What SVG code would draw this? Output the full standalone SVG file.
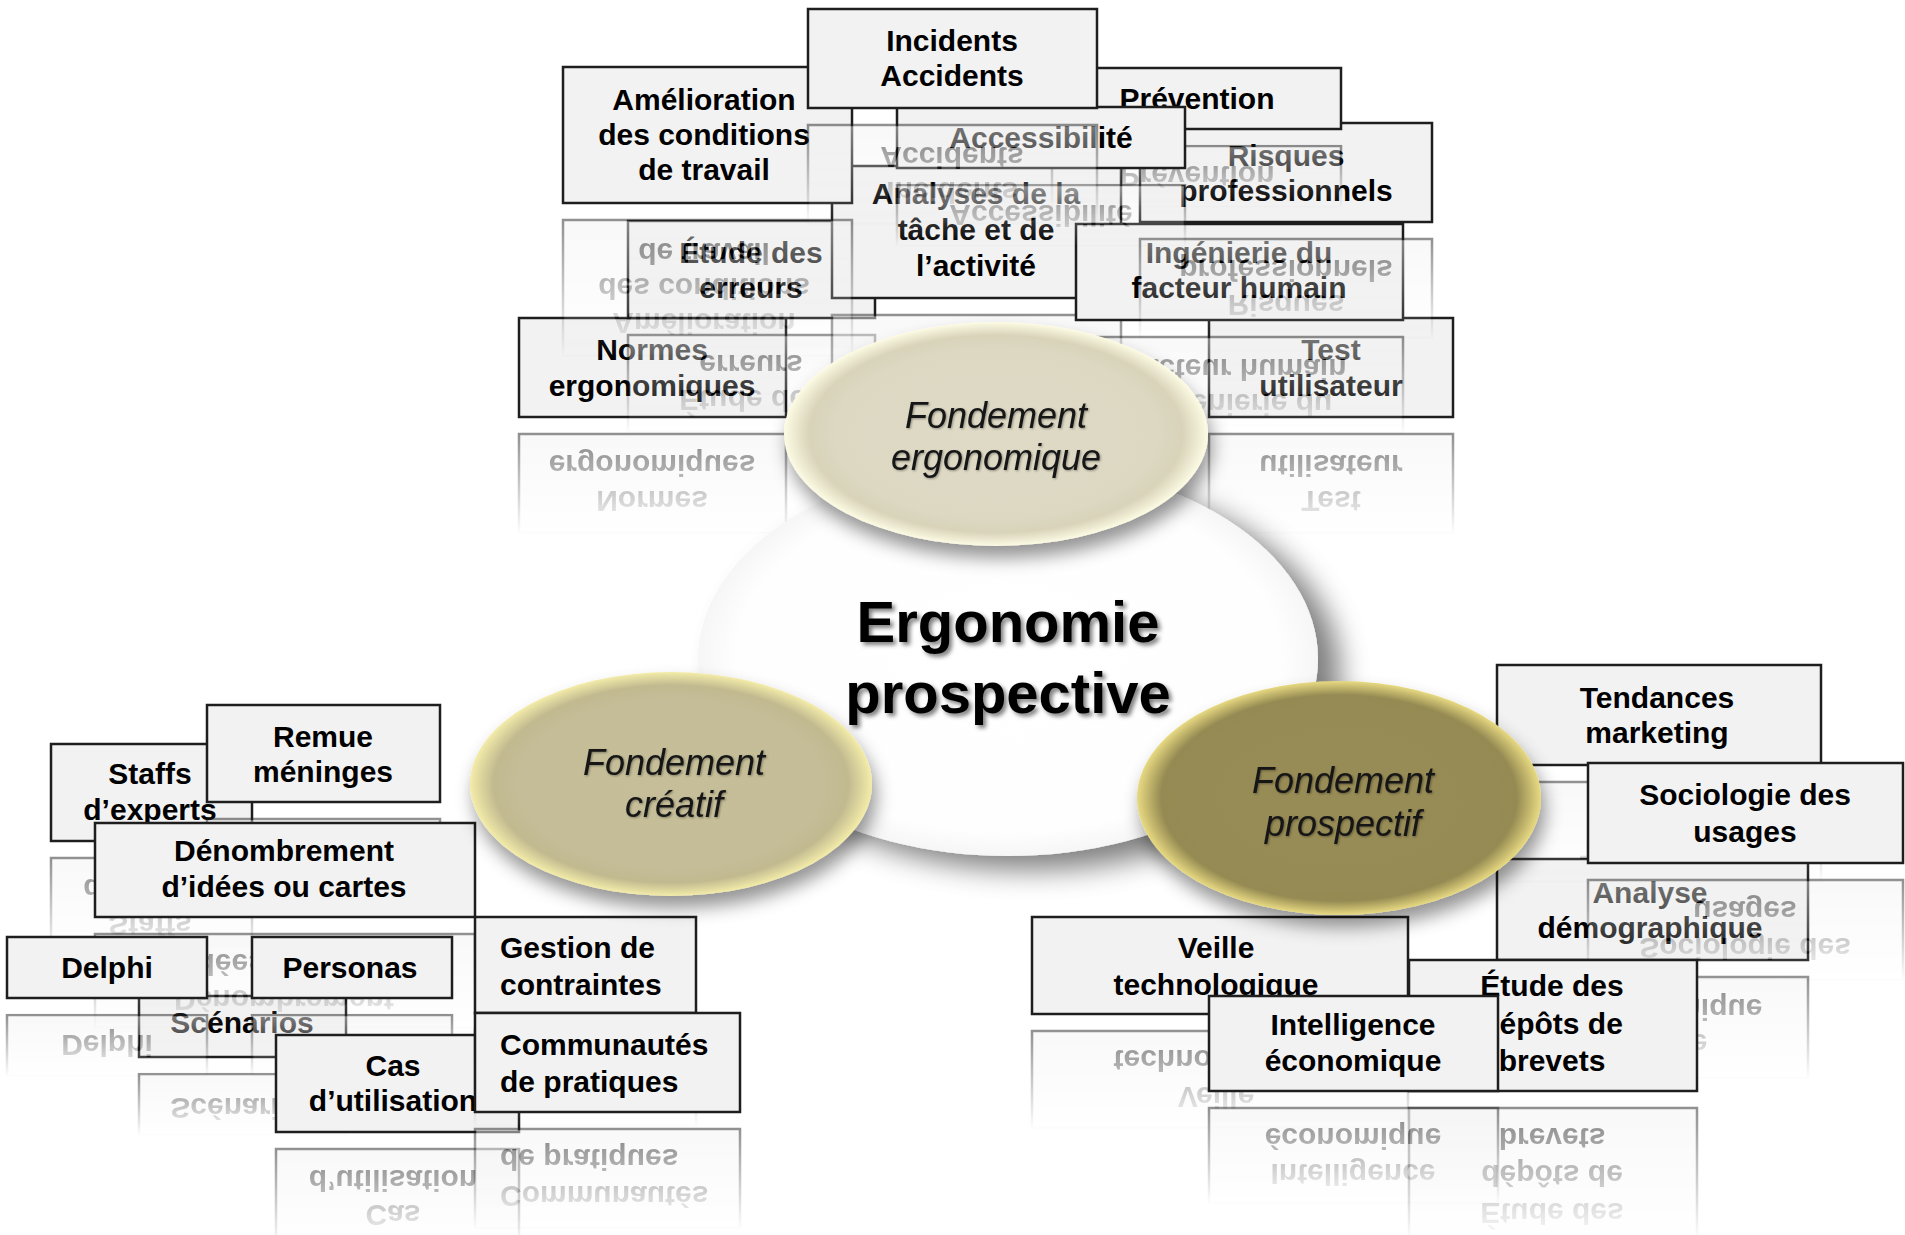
<svg xmlns="http://www.w3.org/2000/svg" xmlns:xlink="http://www.w3.org/1999/xlink" width="1905" height="1235" viewBox="0 0 1905 1235">
<style>
.bx{fill:#f2f2f2;stroke:#1e1e1e;stroke-width:2.5}
.bt{font-family:"Liberation Sans",Arial,sans-serif;font-weight:700;font-size:30px;fill:#000;text-anchor:middle}
.bl{text-anchor:start}
.ft{font-family:"Liberation Sans",Arial,sans-serif;font-style:italic;font-size:36px;fill:#151515;text-anchor:middle}
.ct{font-family:"Liberation Sans",Arial,sans-serif;font-weight:700;font-size:58px;fill:#000;text-anchor:middle}
</style>
<defs>
<linearGradient id="fadeG" x1="0" y1="0" x2="0" y2="1">
<stop offset="0" stop-color="#fff" stop-opacity="0.5"/>
<stop offset="1" stop-color="#fff" stop-opacity="0"/>
</linearGradient>
<mask id="fade" maskContentUnits="objectBoundingBox">
<rect x="-0.05" y="-0.02" width="1.1" height="1.04" fill="url(#fadeG)"/>
</mask>
<radialGradient id="gErgo" cx="0.5" cy="0.5" r="0.5">
<stop offset="0" stop-color="#dedac6"/>
<stop offset="0.76" stop-color="#dcd8c2"/>
<stop offset="0.88" stop-color="#d8d3b9"/>
<stop offset="1" stop-color="#fdfbe4"/>
</radialGradient>
<radialGradient id="gCrea" cx="0.5" cy="0.5" r="0.5">
<stop offset="0" stop-color="#c5be99"/>
<stop offset="0.76" stop-color="#c4bd97"/>
<stop offset="0.88" stop-color="#c1b98f"/>
<stop offset="1" stop-color="#f3eca9"/>
</radialGradient>
<radialGradient id="gPros" cx="0.5" cy="0.5" r="0.5">
<stop offset="0" stop-color="#988c57"/>
<stop offset="0.76" stop-color="#978b55"/>
<stop offset="0.88" stop-color="#958a52"/>
<stop offset="1" stop-color="#e8da82"/>
</radialGradient>
<radialGradient id="gCenter" cx="0.5" cy="0.5" r="0.5">
<stop offset="0" stop-color="#ffffff"/>
<stop offset="0.88" stop-color="#fefefe"/>
<stop offset="1" stop-color="#f6f6f6"/>
</radialGradient>
<filter id="shE" x="-30%" y="-30%" width="160%" height="170%">
<feGaussianBlur in="SourceAlpha" stdDeviation="9"/>
<feOffset dx="4" dy="12" result="o"/>
<feFlood flood-color="#000" flood-opacity="0.42"/>
<feComposite in2="o" operator="in"/>
<feMerge><feMergeNode/><feMergeNode in="SourceGraphic"/></feMerge>
</filter>
<filter id="shC" x="-30%" y="-30%" width="160%" height="170%">
<feGaussianBlur in="SourceAlpha" stdDeviation="14"/>
<feOffset dx="22" dy="14" result="o"/>
<feFlood flood-color="#000" flood-opacity="0.5"/>
<feComposite in2="o" operator="in"/>
<feMerge><feMergeNode/><feMergeNode in="SourceGraphic"/></feMerge>
</filter>
<filter id="shT" x="-10%" y="-20%" width="120%" height="150%">
<feDropShadow dx="3" dy="3" stdDeviation="2.2" flood-color="#000" flood-opacity="0.5"/>
</filter>
<filter id="shF" x="-10%" y="-20%" width="120%" height="150%">
<feDropShadow dx="1" dy="1" stdDeviation="0.8" flood-color="#000" flood-opacity="0.35"/>
</filter>
</defs>

<rect x="0" y="0" width="1905" height="1235" fill="#ffffff"/>

<g id="top-cluster">
<g id="n-normes"><rect class="bx" x="519" y="318" width="267" height="99"/><text class="bt"><tspan x="652" y="360">Normes</tspan><tspan x="652" y="396">ergonomiques</tspan></text></g>
<g mask="url(#fade)"><use href="#n-normes" transform="matrix(1 0 0 -1 0 851)"/></g>
<g id="n-test"><rect class="bx" x="1209" y="318" width="244" height="99"/><text class="bt"><tspan x="1331" y="360">Test</tspan><tspan x="1331" y="396">utilisateur</tspan></text></g>
<g mask="url(#fade)"><use href="#n-test" transform="matrix(1 0 0 -1 0 851)"/></g>
<g id="n-etude-erreurs"><rect class="bx" x="628" y="221" width="247" height="97"/><text class="bt"><tspan x="751" y="263">Étude des</tspan><tspan x="751" y="298">erreurs</tspan></text></g>
<g mask="url(#fade)"><use href="#n-etude-erreurs" transform="matrix(1 0 0 -1 0 653)"/></g>
<g id="n-analyses"><rect class="bx" x="832" y="166" width="289" height="132"/><text class="bt"><tspan x="976" y="204">Analyses de la</tspan><tspan x="976" y="240">tâche et de</tspan><tspan x="976" y="276">l’activité</tspan></text></g>
<g mask="url(#fade)"><use href="#n-analyses" transform="matrix(1 0 0 -1 0 613)"/></g>
<g id="n-ingenierie"><rect class="bx" x="1076" y="224" width="327" height="96"/><text class="bt"><tspan x="1239" y="263">Ingénierie du</tspan><tspan x="1239" y="298">facteur humain</tspan></text></g>
<g mask="url(#fade)"><use href="#n-ingenierie" transform="matrix(1 0 0 -1 0 657)"/></g>
<g id="n-risques"><rect class="bx" x="1140" y="123" width="292" height="99"/><text class="bt"><tspan x="1286" y="166">Risques</tspan><tspan x="1286" y="201">professionnels</tspan></text></g>
<g mask="url(#fade)"><use href="#n-risques" transform="matrix(1 0 0 -1 0 461)"/></g>
<g id="n-prevention"><rect class="bx" x="1052" y="68" width="289" height="61"/><text class="bt"><tspan x="1197" y="109">Prévention</tspan></text></g>
<g mask="url(#fade)"><use href="#n-prevention" transform="matrix(1 0 0 -1 0 275)"/></g>
<g id="n-accessibilite"><rect class="bx" x="897" y="107" width="288" height="61"/><text class="bt"><tspan x="1041" y="148">Accessibilité</tspan></text></g>
<g mask="url(#fade)"><use href="#n-accessibilite" transform="matrix(1 0 0 -1 0 353)"/></g>
<g id="n-amelioration"><rect class="bx" x="563" y="67" width="289" height="136"/><text class="bt"><tspan x="704" y="110">Amélioration</tspan><tspan x="704" y="145">des conditions</tspan><tspan x="704" y="180">de travail</tspan></text></g>
<g mask="url(#fade)"><use href="#n-amelioration" transform="matrix(1 0 0 -1 0 423)"/></g>
<g id="n-incidents"><rect class="bx" x="808" y="9" width="289" height="99"/><text class="bt"><tspan x="952" y="51">Incidents</tspan><tspan x="952" y="86">Accidents</tspan></text></g>
<g mask="url(#fade)"><use href="#n-incidents" transform="matrix(1 0 0 -1 0 233)"/></g>
</g>

<g id="left-cluster">
<g id="n-staffs"><rect class="bx" x="51" y="744" width="201" height="97"/><text class="bt"><tspan x="150" y="784">Staffs</tspan><tspan x="150" y="820">d’experts</tspan></text></g>
<g mask="url(#fade)"><use href="#n-staffs" transform="matrix(1 0 0 -1 0 1699)"/></g>
<g id="n-remue"><rect class="bx" x="207" y="705" width="233" height="97"/><text class="bt"><tspan x="323" y="747">Remue</tspan><tspan x="323" y="782">méninges</tspan></text></g>
<g mask="url(#fade)"><use href="#n-remue" transform="matrix(1 0 0 -1 0 1621)"/></g>
<g id="n-scenarios"><rect class="bx" x="139" y="996" width="207" height="61"/><text class="bt"><tspan x="242" y="1033">Scénarios</tspan></text></g>
<g mask="url(#fade)"><use href="#n-scenarios" transform="matrix(1 0 0 -1 0 2131)"/></g>
<g id="n-denombrement"><rect class="bx" x="95" y="823" width="380" height="94"/><text class="bt"><tspan x="284" y="861">Dénombrement</tspan><tspan x="284" y="897">d’idées ou cartes</tspan></text></g>
<g mask="url(#fade)"><use href="#n-denombrement" transform="matrix(1 0 0 -1 0 1851)"/></g>
<g id="n-delphi"><rect class="bx" x="7" y="937" width="200" height="61"/><text class="bt"><tspan x="107" y="978">Delphi</tspan></text></g>
<g mask="url(#fade)"><use href="#n-delphi" transform="matrix(1 0 0 -1 0 2013)"/></g>
<g id="n-personas"><rect class="bx" x="252" y="937" width="200" height="61"/><text class="bt"><tspan x="350" y="978">Personas</tspan></text></g>
<g mask="url(#fade)"><use href="#n-personas" transform="matrix(1 0 0 -1 0 2013)"/></g>
<g id="n-cas"><rect class="bx" x="276" y="1035" width="243" height="97"/><text class="bt"><tspan x="393" y="1076">Cas</tspan><tspan x="393" y="1111">d’utilisation</tspan></text></g>
<g mask="url(#fade)"><use href="#n-cas" transform="matrix(1 0 0 -1 0 2281)"/></g>
<g id="n-gestion"><rect class="bx" x="475" y="917" width="221" height="96"/><text class="bt bl"><tspan x="500" y="958">Gestion de</tspan><tspan x="500" y="995">contraintes</tspan></text></g>
<g mask="url(#fade)"><use href="#n-gestion" transform="matrix(1 0 0 -1 0 2043)"/></g>
<g id="n-communautes"><rect class="bx" x="475" y="1013" width="265" height="99"/><text class="bt bl"><tspan x="500" y="1055">Communautés</tspan><tspan x="500" y="1092">de pratiques</tspan></text></g>
<g mask="url(#fade)"><use href="#n-communautes" transform="matrix(1 0 0 -1 0 2241)"/></g>
</g>

<g id="right-cluster">
<g id="n-analyse"><rect class="bx" x="1497" y="859" width="311" height="101"/><text class="bt"><tspan x="1650" y="903">Analyse</tspan><tspan x="1650" y="938">démographique</tspan></text></g>
<g mask="url(#fade)"><use href="#n-analyse" transform="matrix(1 0 0 -1 0 1937)"/></g>
<g id="n-tendances"><rect class="bx" x="1497" y="665" width="324" height="100"/><text class="bt"><tspan x="1657" y="708">Tendances</tspan><tspan x="1657" y="743">marketing</tspan></text></g>
<g mask="url(#fade)"><use href="#n-tendances" transform="matrix(1 0 0 -1 0 1547)"/></g>
<g id="n-sociologie"><rect class="bx" x="1588" y="763" width="315" height="100"/><text class="bt"><tspan x="1745" y="805">Sociologie des</tspan><tspan x="1745" y="842">usages</tspan></text></g>
<g mask="url(#fade)"><use href="#n-sociologie" transform="matrix(1 0 0 -1 0 1743)"/></g>
<g id="n-veille"><rect class="bx" x="1032" y="917" width="376" height="97"/><text class="bt"><tspan x="1216" y="958">Veille</tspan><tspan x="1216" y="995">technologique</tspan></text></g>
<g mask="url(#fade)"><use href="#n-veille" transform="matrix(1 0 0 -1 0 2045)"/></g>
<g id="n-etude-brevets"><rect class="bx" x="1409" y="960" width="288" height="131"/><text class="bt"><tspan x="1552" y="996">Étude des</tspan><tspan x="1552" y="1034">dépôts de</tspan><tspan x="1552" y="1071">brevets</tspan></text></g>
<g mask="url(#fade)"><use href="#n-etude-brevets" transform="matrix(1 0 0 -1 0 2199)"/></g>
<g id="n-intelligence"><rect class="bx" x="1209" y="996" width="289" height="95"/><text class="bt"><tspan x="1353" y="1035">Intelligence</tspan><tspan x="1353" y="1071">économique</tspan></text></g>
<g mask="url(#fade)"><use href="#n-intelligence" transform="matrix(1 0 0 -1 0 2199)"/></g>
</g>

<g id="n-ergonomie-prospective">
<ellipse cx="1008" cy="659" rx="310" ry="197" fill="url(#gCenter)" filter="url(#shC)"/>
</g>

<g id="n-fondement-ergonomique">
<ellipse cx="996" cy="434" rx="212" ry="112" fill="url(#gErgo)" filter="url(#shE)"/>
<text class="ft" filter="url(#shF)"><tspan x="996" y="428">Fondement</tspan><tspan x="996" y="470">ergonomique</tspan></text>
</g>

<g id="n-fondement-creatif">
<ellipse cx="671" cy="784" rx="201" ry="112" fill="url(#gCrea)" filter="url(#shE)"/>
<text class="ft" filter="url(#shF)"><tspan x="674" y="775">Fondement</tspan><tspan x="674" y="817">créatif</tspan></text>
</g>

<g id="n-fondement-prospectif">
<ellipse cx="1339" cy="798" rx="202" ry="117" fill="url(#gPros)" filter="url(#shE)"/>
<text class="ft" filter="url(#shF)"><tspan x="1343" y="793">Fondement</tspan><tspan x="1343" y="836">prospectif</tspan></text>
</g>

<g id="center-label">
<text class="ct" filter="url(#shT)"><tspan x="1008" y="642">Ergonomie</tspan><tspan x="1008" y="713">prospective</tspan></text>
</g>
</svg>
